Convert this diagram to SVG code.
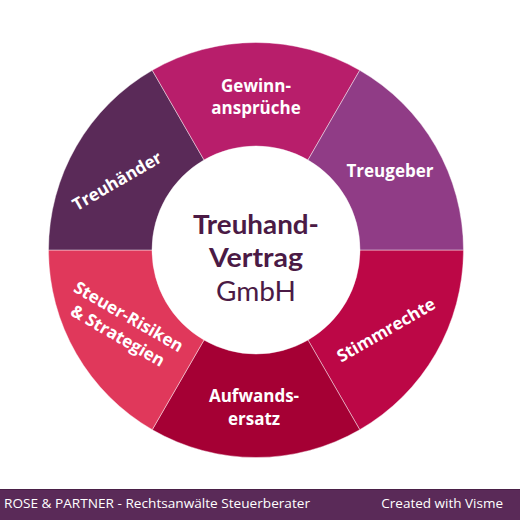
<svg xmlns="http://www.w3.org/2000/svg" width="520" height="520" viewBox="0 0 520 520">
<style>
.seg{stroke:#ffffff;stroke-opacity:0.55;stroke-width:0.8}
.lbl{font-family:"Open Sans","Liberation Sans",sans-serif;font-weight:700;font-size:17px;fill:#ffffff;text-anchor:middle}
.ctr{font-family:Lato,"Open Sans","Liberation Sans",sans-serif;fill:#4b1a45;text-anchor:middle;font-size:27px}
.ftr{font-family:"Open Sans","Liberation Sans",sans-serif;font-size:13.5px;fill:#ffffff}
</style>
<rect width="520" height="520" fill="#ffffff"/>
<g id="ring">
<g id="stimmrechte">
<path class="seg" fill="#bc0746" d="M463.5,250 A207.5,207.5 0 0 1 359.75,429.7 L308,340.07 A104,104 0 0 0 360,250 Z"/>
<text class="lbl" transform="translate(386,330) rotate(-30)" y="6">Stimmrechte</text>
</g>
<g id="aufwandsersatz">
<path class="seg" fill="#a50034" d="M359.75,429.7 A207.5,207.5 0 0 1 152.25,429.7 L204,340.07 A104,104 0 0 0 308,340.07 Z"/>
<text class="lbl" x="254" y="402">Aufwands-</text>
<text class="lbl" x="254" y="425">ersatz</text>
</g>
<g id="steuer">
<path class="seg" fill="#e0385b" d="M152.25,429.7 A207.5,207.5 0 0 1 48.5,250 L152,250 A104,104 0 0 0 204,340.07 Z"/>
<text class="lbl" transform="translate(123,326.5) rotate(30)"><tspan x="0" y="-5.5">Steuer-Risiken</tspan><tspan x="0" y="16.5">&amp; Strategien</tspan></text>
</g>
<g id="treuhaender">
<path class="seg" fill="#5a2a58" d="M48.5,250 A207.5,207.5 0 0 1 152.25,70.3 L204,159.93 A104,104 0 0 0 152,250 Z"/>
<text class="lbl" transform="translate(117,181) rotate(-30)" y="6">Treuhänder</text>
</g>
<g id="gewinn">
<path class="seg" fill="#b81e6b" d="M152.25,70.3 A207.5,207.5 0 0 1 359.75,70.3 L308,159.93 A104,104 0 0 0 204,159.93 Z"/>
<text class="lbl" x="256" y="92">Gewinn-</text>
<text class="lbl" x="256" y="114">ansprüche</text>
</g>
<g id="treugeber">
<path class="seg" fill="#903c86" d="M359.75,70.3 A207.5,207.5 0 0 1 463.5,250 L360,250 A104,104 0 0 0 308,159.93 Z"/>
<text class="lbl" x="390" y="177">Treugeber</text>
</g>
</g>
<g id="center">
<text class="ctr" x="256" y="234" font-weight="700" textLength="126" lengthAdjust="spacingAndGlyphs">Treuhand-</text>
<text class="ctr" x="256" y="267" font-weight="700" textLength="94" lengthAdjust="spacingAndGlyphs">Vertrag</text>
<text class="ctr" x="256" y="301" font-weight="400" textLength="80" lengthAdjust="spacingAndGlyphs">GmbH</text>
</g>
<g id="footer">
<rect x="0" y="489" width="520" height="31" fill="#5a2a58"/>
<line x1="0" y1="489.5" x2="520" y2="489.5" stroke="#4a2048" stroke-width="1"/>
<text class="ftr" x="4" y="508" textLength="306" lengthAdjust="spacingAndGlyphs">ROSE &amp; PARTNER - Rechtsanwälte Steuerberater</text>
<text class="ftr" x="503" y="508" text-anchor="end">Created with Visme</text>
</g>
</svg>
